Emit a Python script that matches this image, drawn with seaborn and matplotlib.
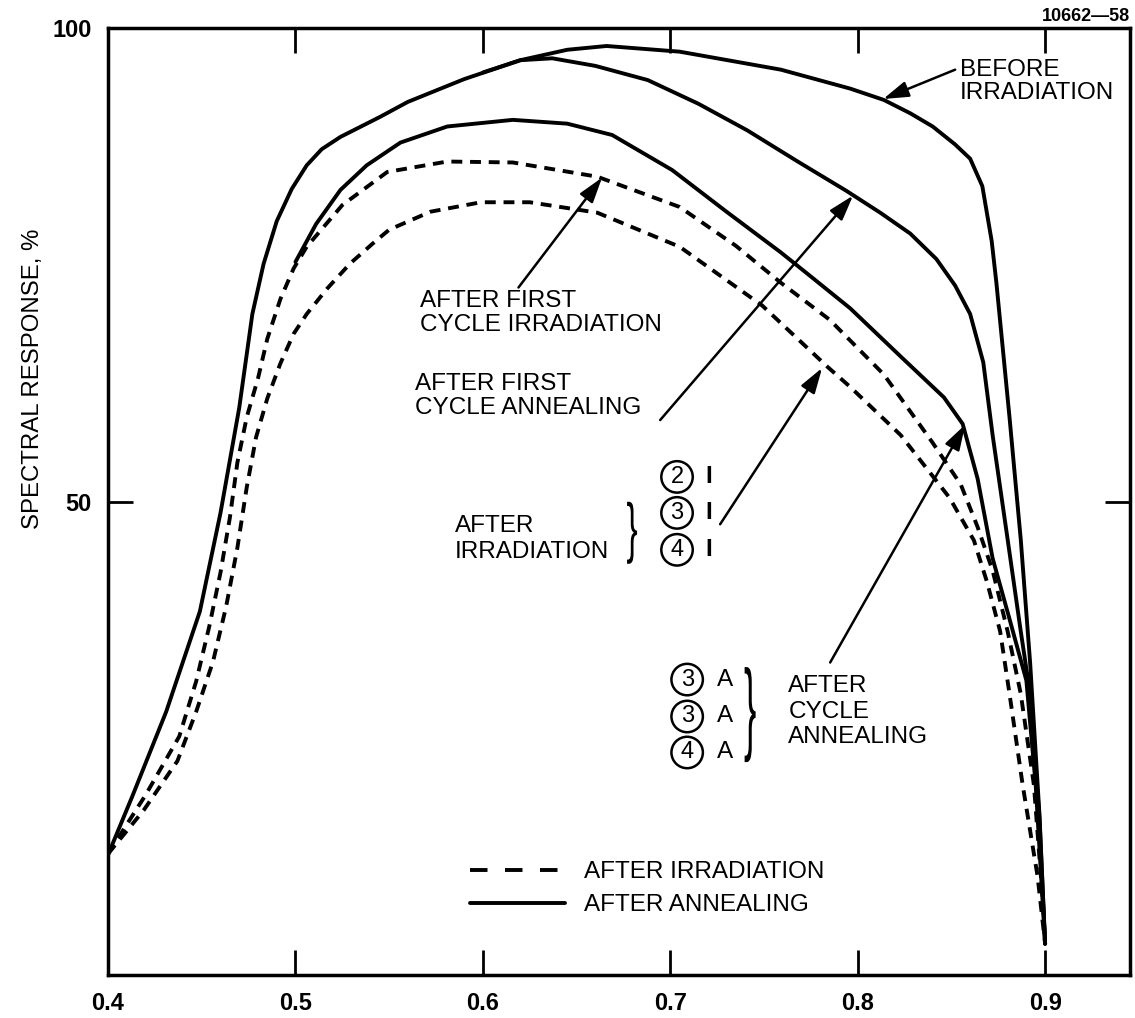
import numpy as np
import pandas as pd
import matplotlib
matplotlib.use("Agg")
import matplotlib.pyplot as plt
import seaborn as sns
from matplotlib.textpath import TextPath
from matplotlib.patches import PathPatch
from matplotlib.font_manager import FontProperties
from matplotlib.transforms import Affine2D

sns.set_theme(style="white")
plt.rcParams['font.family'] = ['Liberation Sans', 'DejaVu Sans']
plt.rcParams['text.color'] = 'black'
plt.rcParams['axes.labelcolor'] = 'black'

# Curvas (comprimento de onda, resposta espectral %)
x_before = [0.400, 0.413, 0.431, 0.449, 0.460, 0.470, 0.477, 0.483, 0.490, 0.498, 0.506, 0.514,
            0.524, 0.545, 0.560, 0.590, 0.620, 0.645, 0.666, 0.705, 0.759, 0.796, 0.814, 0.828,
            0.840, 0.852, 0.860, 0.8665, 0.8715, 0.874, 0.881, 0.887, 0.892, 0.897, 0.900]
y_before = [12.7, 18.9, 27.8, 38.4, 48.8, 59.9, 69.8, 75.1, 79.6, 83.0, 85.5, 87.2,
            88.5, 90.6, 92.2, 94.6, 96.6, 97.7, 98.1, 97.5, 95.6, 93.6, 92.4, 91.0,
            89.6, 87.7, 86.2, 83.3, 77.5, 73.1, 58.9, 46.0, 33.0, 16.9, 3.3]

x_first_anneal = [0.600, 0.620, 0.637, 0.660, 0.688, 0.715, 0.741, 0.768, 0.794, 0.812, 0.828,
                  0.842, 0.852, 0.860, 0.867, 0.872, 0.880, 0.887, 0.892, 0.897, 0.900]
y_first_anneal = [95.3, 96.6, 96.8, 96.0, 94.5, 92.0, 89.2, 85.9, 82.8, 80.5, 78.3,
                  75.6, 72.8, 69.8, 64.7, 57.0, 46.0, 36.3, 29.7, 16.5, 3.3]

x_cycle_anneal = [0.500, 0.511, 0.524, 0.538, 0.556, 0.581, 0.616, 0.645, 0.669, 0.701, 0.730,
                  0.759, 0.776, 0.796, 0.823, 0.846, 0.856, 0.864, 0.872, 0.881, 0.890, 0.895, 0.900]
y_cycle_anneal = [75.3, 79.3, 82.9, 85.5, 87.9, 89.6, 90.3, 89.9, 88.7, 85.0, 80.6,
                  76.3, 73.6, 70.4, 65.3, 61.0, 58.2, 52.4, 44.0, 37.6, 31.1, 20.0, 3.3]

x_first_irrad = [0.400, 0.420, 0.438, 0.447, 0.454, 0.460, 0.465, 0.469, 0.474, 0.480, 0.485,
                 0.492, 0.499, 0.506, 0.525, 0.549, 0.581, 0.616, 0.661, 0.705, 0.735, 0.759,
                 0.785, 0.814, 0.840, 0.855, 0.864, 0.872, 0.880, 0.887, 0.894, 0.899, 0.900]
y_first_irrad = [12.8, 19.0, 25.2, 31.0, 36.8, 42.5, 48.3, 54.1, 58.9, 63.0, 67.2,
                 71.4, 74.6, 76.9, 81.3, 84.8, 85.9, 85.8, 84.3, 81.1, 77.0, 73.1,
                 69.2, 63.4, 56.2, 51.8, 47.3, 42.7, 36.3, 29.7, 20.1, 7.2, 3.3]

x_irrad = [0.400, 0.419, 0.437, 0.447, 0.456, 0.463, 0.469, 0.474, 0.479, 0.485, 0.492,
           0.499, 0.506, 0.517, 0.529, 0.541, 0.550, 0.572, 0.599, 0.625, 0.661, 0.705,
           0.749, 0.784, 0.796, 0.823, 0.849, 0.862, 0.869, 0.876, 0.881, 0.888, 0.896, 0.900]
y_irrad = [12.8, 17.4, 22.6, 27.8, 33.1, 38.9, 45.1, 51.5, 56.8, 60.9, 64.6,
           67.7, 69.8, 72.5, 75.1, 77.2, 78.7, 80.6, 81.6, 81.6, 80.5, 76.9,
           70.7, 64.2, 62.1, 57.0, 50.4, 45.9, 41.5, 36.3, 29.7, 20.1, 10.4, 3.3]

x_ticks = [0.4, 0.5, 0.6, 0.7, 0.8, 0.9]
x_ticklabels = ['0.4', '0.5', '0.6', '0.7', '0.8', '0.9']
y_ticks = [50, 100]
y_ticklabels = ['50', '100']

fig = plt.figure(figsize=(11.35, 10.18), dpi=100)
ax = fig.add_axes([0.0952, 0.0422, 0.9004, 0.9303])

lw = 2.8
dash = (0, (2.8, 2.0))
solidas = [(x_before, y_before), (x_first_anneal, y_first_anneal), (x_cycle_anneal, y_cycle_anneal)]
tracejadas = [(x_first_irrad, y_first_irrad), (x_irrad, y_irrad)]

for xs, ys in solidas:
    sns.lineplot(x=xs, y=ys, sort=False, estimator=None, color='black', lw=lw, ax=ax)
for xs, ys in tracejadas:
    sns.lineplot(x=xs, y=ys, sort=False, estimator=None, color='black', lw=lw, linestyle=dash, ax=ax)

ax.set_xlim(0.4, 0.9453)
ax.set_ylim(0, 100)
ax.set_xticks(x_ticks)
ax.set_xticklabels(x_ticklabels, fontsize=17, fontweight='bold')
ax.set_yticks(y_ticks)
ax.set_yticklabels(y_ticklabels, fontsize=17, fontweight='bold')
ax.tick_params(axis='both', direction='in', length=18, width=2, color='black',
               labelcolor='black', top=True, right=True, bottom=True, left=True)
ax.tick_params(axis='x', pad=12)
ax.tick_params(axis='y', pad=12)
for s in ax.spines.values():
    s.set_linewidth(2.5)
    s.set_color('black')

ax.set_ylabel('SPECTRAL RESPONSE, %', fontsize=17.3)
ax.yaxis.set_label_coords(-0.063, 0.63)

fig.text(0.996, 0.992, '10662\u201458', ha='right', va='top', fontsize=13, fontweight='bold')

# Anotações
fs = 17.5
seta = dict(arrowstyle='-|>,head_length=0.7,head_width=0.22', color='black', lw=1.8,
            mutation_scale=22, shrinkA=0, shrinkB=0)

ax.text(0.8546, 96.7, 'BEFORE\nIRRADIATION', fontsize=fs, ha='left', va='top', linespacing=1.02)
ax.annotate('', xy=(0.8136, 92.5), xytext=(0.852, 95.6), arrowprops=seta)

ax.text(0.5665, 72.3, 'AFTER FIRST\nCYCLE IRRADIATION', fontsize=fs, ha='left', va='top', linespacing=1.12)
ax.annotate('', xy=(0.6636, 84.2), xytext=(0.619, 72.6), arrowprops=seta)

ax.text(0.5638, 63.6, 'AFTER FIRST\nCYCLE ANNEALING', fontsize=fs, ha='left', va='top', linespacing=1.12)
ax.annotate('', xy=(0.7975, 82.3), xytext=(0.6946, 58.6), arrowprops=seta)

ax.text(0.585, 48.6, 'AFTER\nIRRADIATION', fontsize=fs, ha='left', va='top', linespacing=1.22)


def chave(xc, yc, w_px, h_px):
    # desenha "}" esticada verticalmente
    tp = TextPath((0, 0), '}', size=1, prop=FontProperties(family='Liberation Sans'))
    e = tp.get_extents()
    sx = (w_px * 0.1 / 187.4) / e.width
    sy = (h_px * 100 / 947) / e.height
    tr = Affine2D().translate(-(e.x0 + e.x1) / 2, -(e.y0 + e.y1) / 2).scale(sx, sy).translate(xc, yc)
    ax.add_patch(PathPatch(tr.transform_path(tp), fc='black', ec='none'))


def circulo(xc, yc, txt):
    ax.text(xc, yc, txt, fontsize=17, ha='center', va='center',
            bbox=dict(boxstyle='circle,pad=0.2', fc='white', ec='black', lw=1.8))


chave(0.6796, 46.7, 10, 62)
for yy, num in zip([52.6, 48.8, 44.9], ['2', '3', '4']):
    circulo(0.7036, yy, num)
    ax.text(0.7205, yy, 'I', fontsize=fs, ha='center', va='center', fontweight='bold')
ax.annotate('', xy=(0.781, 64.1), xytext=(0.7266, 47.6), arrowprops=seta)

for yy, num in zip([31.2, 27.3, 23.5], ['3', '3', '4']):
    circulo(0.709, yy, num)
    ax.text(0.729, yy, 'A', fontsize=fs, ha='center', va='center')
chave(0.7426, 27.5, 11, 95)
ax.text(0.763, 31.7, 'AFTER\nCYCLE\nANNEALING', fontsize=fs, ha='left', va='top', linespacing=1.22)
ax.annotate('', xy=(0.8573, 58.1), xytext=(0.7853, 33.0), arrowprops=seta)

# Legenda
h_dash = plt.Line2D([], [], color='black', lw=lw, linestyle=(0, (4.5, 4.5)))
h_solid = plt.Line2D([], [], color='black', lw=lw)
ax.legend([h_dash, h_solid], ['AFTER IRRADIATION', 'AFTER ANNEALING'], loc='upper left',
          bbox_to_anchor=(0.354, 0.12), frameon=False, fontsize=fs, handlelength=3.9,
          handletextpad=0.8, labelspacing=0.45, borderpad=0, borderaxespad=0)

plt.savefig('out.png', dpi=100)
